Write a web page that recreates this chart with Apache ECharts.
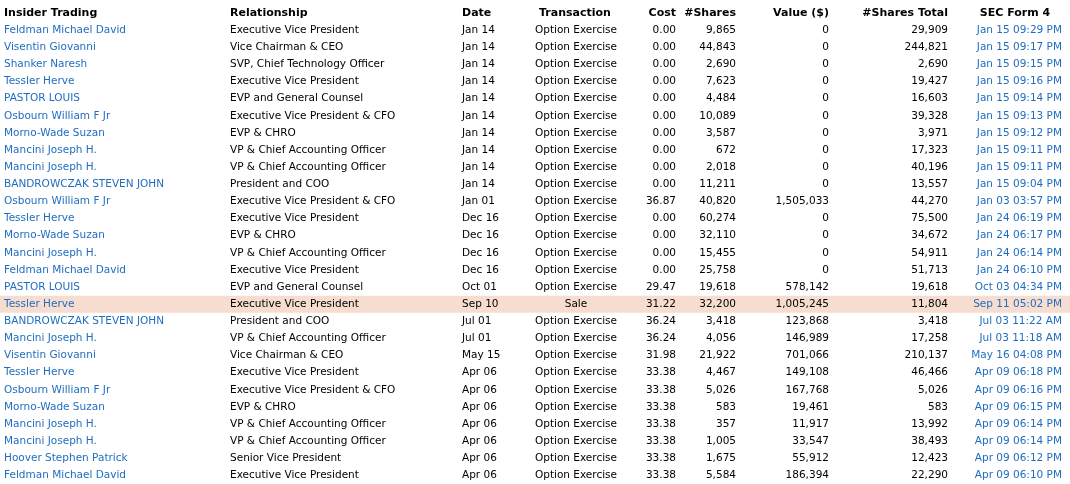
<!DOCTYPE html><html><head><meta charset="utf-8">
<script src="https://cdn.jsdelivr.net/npm/echarts@6/dist/echarts.min.js"></script>
<style>html,body{margin:0;padding:0;background:#fff}#c{width:1070px;height:484px}</style></head><body><div id="c"></div>
<script>
const headers=["Insider Trading","Relationship","Date","Transaction","Cost","#Shares","Value ($)","#Shares Total","SEC Form 4"];
const insiders=["Feldman Michael David","Visentin Giovanni","Shanker Naresh","Tessler Herve","PASTOR LOUIS","Osbourn William F Jr","Morno-Wade Suzan","Mancini Joseph H.","Mancini Joseph H.","BANDROWCZAK STEVEN JOHN","Osbourn William F Jr","Tessler Herve","Morno-Wade Suzan","Mancini Joseph H.","Feldman Michael David","PASTOR LOUIS","Tessler Herve","BANDROWCZAK STEVEN JOHN","Mancini Joseph H.","Visentin Giovanni","Tessler Herve","Osbourn William F Jr","Morno-Wade Suzan","Mancini Joseph H.","Mancini Joseph H.","Hoover Stephen Patrick","Feldman Michael David"];
const relationships=["Executive Vice President","Vice Chairman & CEO","SVP, Chief Technology Officer","Executive Vice President","EVP and General Counsel","Executive Vice President & CFO","EVP & CHRO","VP & Chief Accounting Officer","VP & Chief Accounting Officer","President and COO","Executive Vice President & CFO","Executive Vice President","EVP & CHRO","VP & Chief Accounting Officer","Executive Vice President","EVP and General Counsel","Executive Vice President","President and COO","VP & Chief Accounting Officer","Vice Chairman & CEO","Executive Vice President","Executive Vice President & CFO","EVP & CHRO","VP & Chief Accounting Officer","VP & Chief Accounting Officer","Senior Vice President","Executive Vice President"];
const dates=["Jan 14","Jan 14","Jan 14","Jan 14","Jan 14","Jan 14","Jan 14","Jan 14","Jan 14","Jan 14","Jan 01","Dec 16","Dec 16","Dec 16","Dec 16","Oct 01","Sep 10","Jul 01","Jul 01","May 15","Apr 06","Apr 06","Apr 06","Apr 06","Apr 06","Apr 06","Apr 06"];
const transactions=["Option Exercise","Option Exercise","Option Exercise","Option Exercise","Option Exercise","Option Exercise","Option Exercise","Option Exercise","Option Exercise","Option Exercise","Option Exercise","Option Exercise","Option Exercise","Option Exercise","Option Exercise","Option Exercise","Sale","Option Exercise","Option Exercise","Option Exercise","Option Exercise","Option Exercise","Option Exercise","Option Exercise","Option Exercise","Option Exercise","Option Exercise"];
const costs=["0.00","0.00","0.00","0.00","0.00","0.00","0.00","0.00","0.00","0.00","36.87","0.00","0.00","0.00","0.00","29.47","31.22","36.24","36.24","31.98","33.38","33.38","33.38","33.38","33.38","33.38","33.38"];
const shares=["9,865","44,843","2,690","7,623","4,484","10,089","3,587","672","2,018","11,211","40,820","60,274","32,110","15,455","25,758","19,618","32,200","3,418","4,056","21,922","4,467","5,026","583","357","1,005","1,675","5,584"];
const values=["0","0","0","0","0","0","0","0","0","0","1,505,033","0","0","0","0","578,142","1,005,245","123,868","146,989","701,066","149,108","167,768","19,461","11,917","33,547","55,912","186,394"];
const totals=["29,909","244,821","2,690","19,427","16,603","39,328","3,971","17,323","40,196","13,557","44,270","75,500","34,672","54,911","51,713","19,618","11,804","3,418","17,258","210,137","46,466","5,026","583","13,992","38,493","12,423","22,290"];
const secForms=["Jan 15 09:29 PM","Jan 15 09:17 PM","Jan 15 09:15 PM","Jan 15 09:16 PM","Jan 15 09:14 PM","Jan 15 09:13 PM","Jan 15 09:12 PM","Jan 15 09:11 PM","Jan 15 09:11 PM","Jan 15 09:04 PM","Jan 03 03:57 PM","Jan 24 06:19 PM","Jan 24 06:17 PM","Jan 24 06:14 PM","Jan 24 06:10 PM","Oct 03 04:34 PM","Sep 11 05:02 PM","Jul 03 11:22 AM","Jul 03 11:18 AM","May 16 04:08 PM","Apr 09 06:18 PM","Apr 09 06:16 PM","Apr 09 06:15 PM","Apr 09 06:14 PM","Apr 09 06:14 PM","Apr 09 06:12 PM","Apr 09 06:10 PM"];
const highlightRow=16;

const cols=[{x:4,a:'left'},{x:230,a:'left'},{x:462,a:'left'},{x:576,a:'center'},{x:676,a:'right'},{x:736,a:'right'},{x:829,a:'right'},{x:948,a:'right'},{x:1062,a:'right'}];
const headCols=[{x:4,a:'left'},{x:230,a:'left'},{x:462,a:'left'},{x:575,a:'center'},{x:676,a:'right'},{x:736,a:'right'},{x:829,a:'right'},{x:948,a:'right'},{x:1015,a:'center'}];
const cats=['h'].concat(insiders.map((_,i)=>'r'+i));
const data=cats.map((c,i)=>[0,i]);
const font='"DejaVu Sans", Verdana, sans-serif';
const blue='#1f6dc0';
const chart=echarts.init(document.getElementById('c'));
chart.setOption({
 animation:false,
 grid:{left:0,right:0,top:4.5,height:493},
 xAxis:{type:'value',min:0,max:1070,show:false},
 yAxis:{type:'category',data:cats,inverse:true,show:false},
 series:[{type:'custom',data:data,renderItem:function(params,api){
  const r=api.value(1);
  const p=api.coord([0,r]);const y=p[1];
  const sz=api.size([0,1]);const h=sz[1];
  const children=[];
  if(r===0){
   headers.forEach((t,j)=>children.push({type:'text',style:{text:t,x:headCols[j].x,y:y,align:headCols[j].a,verticalAlign:'middle',font:'bold 11px '+font,fill:'#000'}}));
  } else {
   const i=r-1;
   if(i===highlightRow) children.push({type:'rect',shape:{x:0,y:y-h/2,width:1070,height:h},style:{fill:'#f6ddd0'}});
   const vals=[insiders[i],relationships[i],dates[i],transactions[i],costs[i],shares[i],values[i],totals[i],secForms[i]];
   vals.forEach((t,j)=>children.push({type:'text',style:{text:t,x:cols[j].x,y:y,align:cols[j].a,verticalAlign:'middle',font:'10.5px '+font,fill:(j===0||j===8)?blue:'#000'}}));
  }
  return {type:'group',children:children};
 }}]
});
</script></body></html>
